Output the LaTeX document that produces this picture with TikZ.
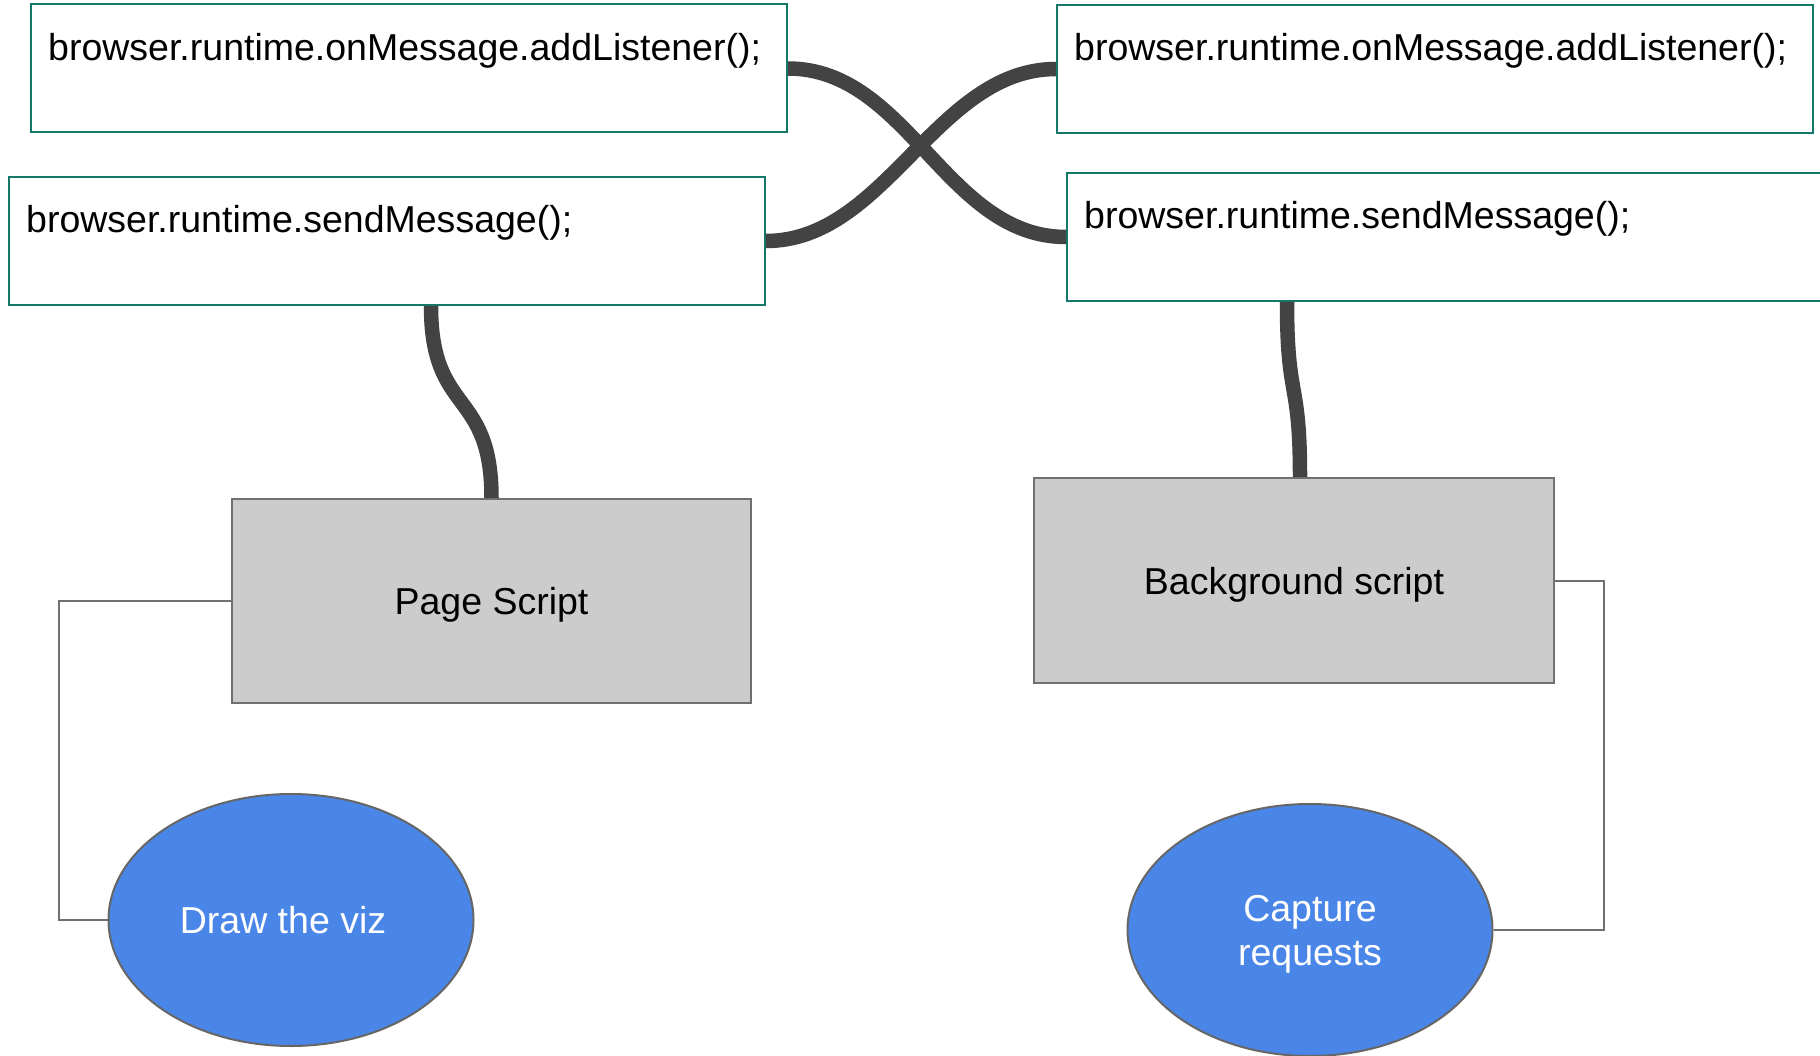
\documentclass[tikz,border=0pt]{standalone}
\usepackage{fontspec}
\setmainfont{Liberation Sans}
\usetikzlibrary{shapes.geometric}
\definecolor{boxteal}{RGB}{20,120,105}
\definecolor{curvegray}{HTML}{434343}
\definecolor{scriptfill}{HTML}{CCCCCC}
\definecolor{scriptline}{HTML}{707070}
\definecolor{ovalblue}{HTML}{4A86E8}
\definecolor{ovalline}{HTML}{666666}
\tikzset{
  apibox/.style={draw=boxteal, line width=2pt, fill=white, rectangle, inner sep=0pt,
    minimum width=756pt, minimum height=128pt},
  scriptbox/.style={draw=scriptline, line width=2pt, fill=scriptfill, rectangle, inner sep=0pt,
    text height=27pt, text depth=0pt},
  oval/.style={draw=ovalline, line width=2pt, fill=ovalblue, ellipse, inner sep=0pt,
    minimum width=365pt, minimum height=252pt, text=white, align=center,
    text depth=0pt},
  wire/.style={draw=curvegray, line width=14.5pt, line cap=butt},
  thinlink/.style={draw=scriptline, line width=2pt},
  apilabel/.style={anchor=base west, inner sep=0pt, xshift=18pt, yshift=-57pt},
  ovallabel/.style={text=white, inner sep=0pt, text height=27pt, text depth=0pt}
}
\begin{document}
\begin{tikzpicture}[x=1pt,y=-1pt,font=\fontsize{37.5}{44}\selectfont]
\useasboundingbox[fill=white] (0,0) rectangle (1820,1056);

\node[apibox, label={[apilabel]north west:browser.runtime.onMessage.addListener();}] (A) at (409,68.5) {};
\node[apibox, label={[apilabel]north west:browser.runtime.onMessage.addListener();}] (B) at (1435,69) {};
\node[apibox, label={[apilabel]north west:browser.runtime.sendMessage();}] (C) at (387,241) {};
\node[apibox, label={[apilabel]north west:browser.runtime.sendMessage();}] (D) at (1445,237) {};

\node[scriptbox, minimum width=519pt, minimum height=204pt] (PS) at (491.5,601) {Page Script};
\node[scriptbox, minimum width=520pt, minimum height=205pt] (BG) at (1294,580.5) {Background script};

\node[oval, label={[ovallabel, xshift=-8pt]center:Draw the viz}] (viz) at (291,920) {};
\node[oval] (cap) at (1310,930) {Capture\\requests};

\coordinate (lbend) at (59,920);
\coordinate (rbend) at (1604,930);
\draw[thinlink] (PS.west) -| (lbend) -- (viz.west);
\draw[thinlink] (BG.east) -| (rbend) -- (cap.east);

\draw[wire] (A.east) .. controls +(120,0) and +(-120,0) .. (D.west);
\draw[wire] (C.east) .. controls +(120,0) and +(-120,0) .. (B.west);
\draw[wire] ([xshift=44pt]C.south) .. controls +(0,110) and +(0,-110) .. (PS.north);
\draw[wire] ([xshift=-158pt]D.south) .. controls +(0,100) and +(0,-100) .. ([xshift=6pt]BG.north);
\end{tikzpicture}
\end{document}
